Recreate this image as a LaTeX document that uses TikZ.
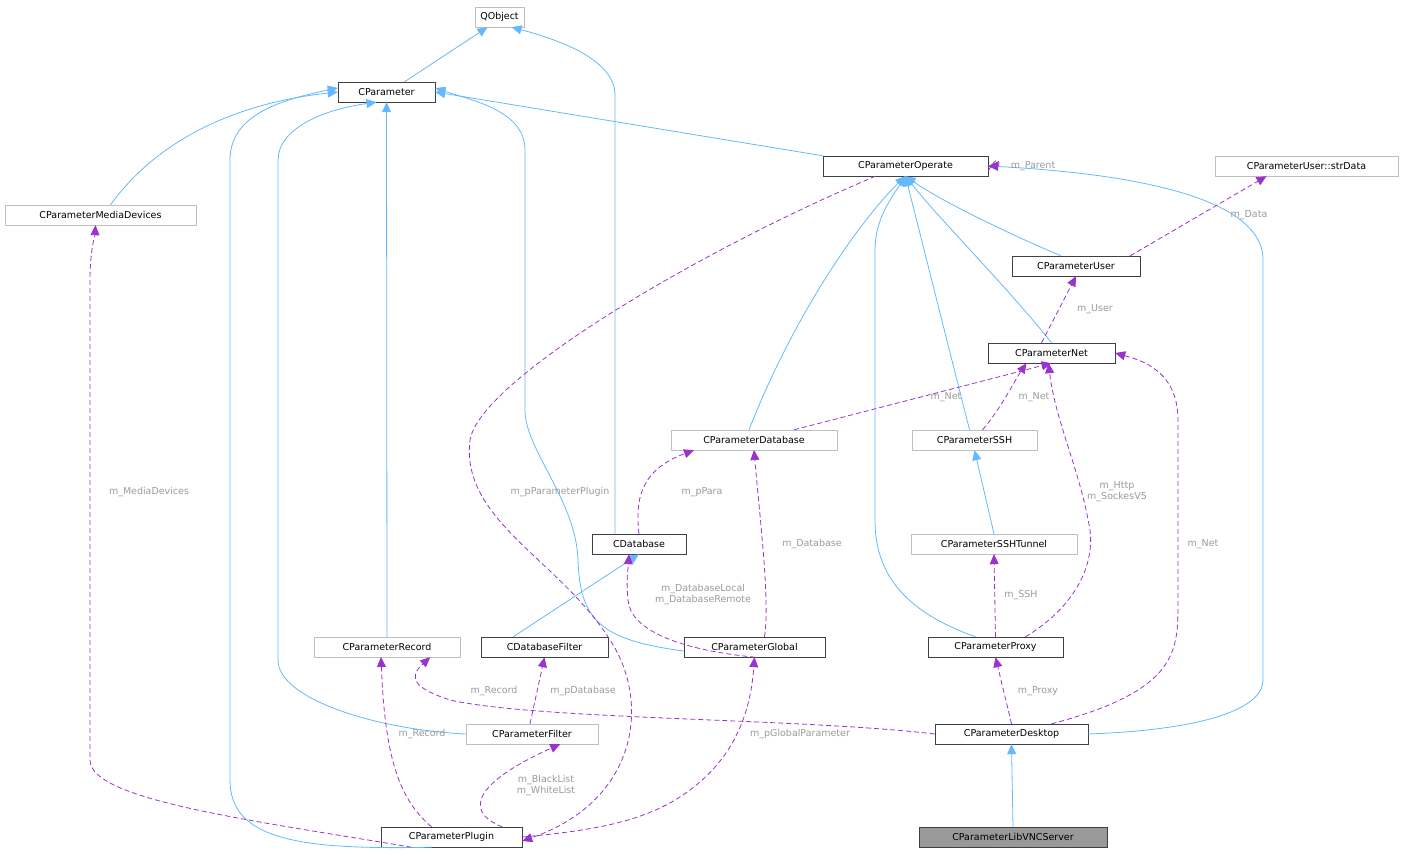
\documentclass[tikz,border=0pt]{standalone}
\usepackage{fontspec}
\setmainfont{DejaVu Sans}
\usetikzlibrary{arrows.meta}
\definecolor{edgeblue}{HTML}{63B8FF}
\definecolor{usepurple}{HTML}{9A32CD}
\definecolor{lblgray}{HTML}{9A9A9A}
\definecolor{boxdark}{HTML}{404040}
\definecolor{boxlight}{HTML}{BFBFBF}
\definecolor{boxfill}{HTML}{999999}
\tikzset{
  cls/.style={draw=boxdark, minimum height=20, inner sep=0pt, font=\fontsize{9.5}{11}\selectfont},
  ext/.style={cls, draw=boxlight},
  inh/.style={draw=edgeblue, line width=0.8pt, -{Triangle[width=9pt,length=10pt,fill=edgeblue]}},
  use/.style={draw=usepurple, line width=0.8pt, dash pattern=on 5pt off 3pt, -{Triangle[width=9pt,length=10pt,fill=usepurple]}},
  lbl/.style={text=lblgray, font=\fontsize{9.5}{11}\selectfont, align=center, inner sep=1pt}
}
\begin{document}
\begin{tikzpicture}[x=1pt,y=-1pt]
    \useasboundingbox (0,0) rectangle (1405,856);
    % classes
    \node [ext, minimum width=49] (qobject) at (499.5,17) {QObject};
    \node [cls, minimum width=97] (param) at (386.5,92) {CParameter};
    \node [cls, minimum width=165] (operate) at (905.5,166) {CParameterOperate};
    \node [ext, minimum width=183] (strdata) at (1306.5,166) {CParameterUser::strData};
    \node [ext, minimum width=191] (media) at (100.5,215) {CParameterMediaDevices};
    \node [cls, minimum width=128] (user) at (1076,266) {CParameterUser};
    \node [cls, minimum width=127] (net) at (1051.5,353) {CParameterNet};
    \node [ext, minimum width=166] (database) at (754,440) {CParameterDatabase};
    \node [ext, minimum width=125] (ssh) at (974.5,440) {CParameterSSH};
    \node [cls, minimum width=94] (cdb) at (639,544) {CDatabase};
    \node [ext, minimum width=166] (tunnel) at (994,544) {CParameterSSHTunnel};
    \node [ext, minimum width=146] (record) at (387,647) {CParameterRecord};
    \node [cls, minimum width=127] (dbfilter) at (544.5,647) {CDatabaseFilter};
    \node [cls, minimum width=141] (global) at (754.5,647) {CParameterGlobal};
    \node [cls, minimum width=135] (proxy) at (995.5,647) {CParameterProxy};
    \node [ext, minimum width=132] (filter) at (532,734) {CParameterFilter};
    \node [cls, minimum width=153] (desktop) at (1011.5,734) {CParameterDesktop};
    \node [cls, minimum width=141] (plugin) at (451.5,837) {CParameterPlugin};
    \node [cls, fill=boxfill, minimum width=188] (vnc) at (1013,837) {CParameterLibVNCServer};
    % inheritance
    \draw [inh] ([xshift=18]param.north) -- ([xshift=-12]qobject.south);
    \draw [inh] ([xshift=-24]cdb.north) .. controls (615,300) and (615,150) .. (615,95) .. controls (615,60) and (560,40) .. ([xshift=12]qobject.south);
    \draw [inh] ([xshift=10]media.north) .. controls (150,150) and (220,105) .. (param.west);
    \draw [inh] ([xshift=-20]plugin.south) .. controls (300,850) and (230,840) .. (230,780) -- (230,160) .. controls (230,115) and (280,100) .. ([yshift=4]param.west);
    \draw [inh] (filter.west) .. controls (380,730) and (278,700) .. (278,660) -- (278,160) .. controls (278,130) and (320,110) .. ([xshift=-10]param.south);
    \draw [inh] (record.north) -- (param.south);
    \draw [inh] ([yshift=-4]global.west) .. controls (600,640) and (580,620) .. (578,560) .. controls (576,500) and (525,450) .. (525,410) -- (525,150) .. controls (525,110) and (470,100) .. ([yshift=4]param.east);
    \draw [inh] (operate.north west) -- (param.east);
    \draw [inh] ([xshift=-5]database.north) .. controls (800,300) and (870,210) .. (operate.south);
    \draw [inh] ([xshift=-5]ssh.north) -- (operate.south);
    \draw [inh] ([xshift=-15]user.north) .. controls (1000,230) and (940,200) .. (operate.south);
    \draw [inh] (net.north) .. controls (1010,290) and (940,220) .. (operate.south);
    \draw [inh] ([xshift=-20]proxy.north) .. controls (900,610) and (875,570) .. (875,520) -- (875,250) .. controls (875,220) and (890,200) .. (operate.south);
    \draw [inh] (desktop.east) .. controls (1200,730) and (1263,710) .. (1263,680) -- (1263,260) .. controls (1263,190) and (1100,172) .. (operate.east);
    \draw [inh] (tunnel.north) -- (ssh.south);
    \draw [inh] ([xshift=-95]dbfilter.north east) -- (cdb.south);
    \draw [inh] (vnc.north) -- (desktop.south);
    % usage
    \draw [use] ([yshift=-5]operate.east) .. controls (1000,150) and (1000,166) .. (operate.east);
    \node [lbl] (lparent) at (1033,166) {m\_Parent};
    \draw [use] ([xshift=-10]user.north east) -- ([xshift=-40]strdata.south);
    \node [lbl] (ldata) at (1249,215) {m\_Data};
    \draw [use] ([xshift=-10]net.north) -- (user.south);
    \node [lbl] (luser) at (1095,309) {m\_User};
    \draw [use] ([xshift=40]database.north) -- (net.south);
    \node [lbl] (lnet1) at (946,397) {m\_Net};
    \draw [use] ([xshift=8]ssh.north) .. controls (1000,410) and (1015,380) .. ([xshift=-25]net.south);
    \node [lbl] (lnet2) at (1034,397) {m\_Net};
    \draw [use] ([xshift=30]proxy.north) .. controls (1070,610) and (1095,570) .. (1090,530) .. controls (1080,470) and (1055,420) .. ([xshift=-3]net.south);
    \node [lbl] (lhttp) at (1117,492) {m\_Http\\m\_SockesV5};
    \draw [use] ([xshift=40]desktop.north) .. controls (1180,690) and (1178,650) .. (1178,600) -- (1178,420) .. controls (1178,370) and (1140,360) .. (net.east);
    \node [lbl] (lnet3) at (1203,544) {m\_Net};
    \draw [use] (cdb.north) .. controls (635,500) and (640,470) .. ([xshift=-60]database.south);
    \node [lbl] (lppara) at (702,492) {m\_pPara};
    \draw [use] ([xshift=10]global.north) .. controls (770,600) and (760,520) .. (754,450);
    \node [lbl] (ldatabase) at (812,544) {m\_Database};
    \draw [use] ([xshift=-70]global.south east) .. controls (680,650) and (630,630) .. (628,600) .. controls (626,580) and (628,570) .. ([xshift=-10]cdb.south);
    \node [lbl] (llocal) at (703,595) {m\_DatabaseLocal\\m\_DatabaseRemote};
    \draw [use] (proxy.north) -- (tunnel.south);
    \node [lbl] (lssh) at (1021,595) {m\_SSH};
    \draw [use] (desktop.north) -- (proxy.south);
    \node [lbl] (lproxy) at (1038,691) {m\_Proxy};
    \draw [use] (desktop.west) .. controls (800,718) and (540,720) .. (450,700) .. controls (420,690) and (405,680) .. ([xshift=-30]record.south east);
    \node [lbl] (lrecord1) at (494,691) {m\_Record};
    \draw [use] ([xshift=-2]filter.north) -- (dbfilter.south);
    \node [lbl] (lpdb) at (583,691) {m\_pDatabase};
    \draw [use] ([xshift=-20]plugin.north) .. controls (400,800) and (385,760) .. (381,657);
    \node [lbl] (lrecord2) at (422,734) {m\_Record};
    \draw [use] ([xshift=-20]plugin.north east) .. controls (460,810) and (480,780) .. ([xshift=-38]filter.south east);
    \node [lbl] (lblack) at (546,786) {m\_BlackList\\m\_WhiteList};
    \draw [use] (plugin.east) .. controls (600,830) and (650,820) .. (690,790) .. controls (730,760) and (750,720) .. (global.south);
    \node [lbl] (lglobal) at (800,734) {m\_pGlobalParameter};
    \draw [use] ([xshift=-40]plugin.south) .. controls (250,820) and (90,800) .. (90,760) -- (90,280) .. controls (90,250) and (95,235) .. ([xshift=-5]media.south);
    \node [lbl] (lmedia) at (149,492) {m\_MediaDevices};
    \draw [use] ([xshift=-30]operate.south) .. controls (700,250) and (480,380) .. (470,440) .. controls (460,520) and (560,560) .. (610,640) .. controls (650,700) and (640,800) .. ([yshift=-4]plugin.east);
    \node [lbl] (lplugin) at (560,492) {m\_pParameterPlugin};
\end{tikzpicture}
\end{document}
